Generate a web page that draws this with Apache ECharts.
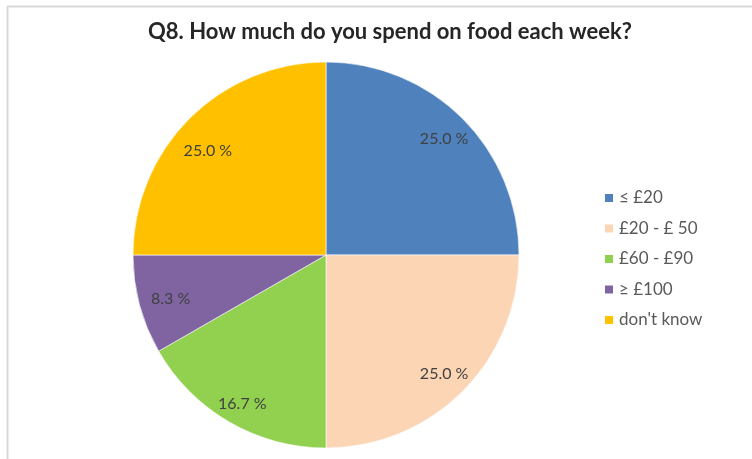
<!DOCTYPE html>
<html>
<head>
<meta charset="utf-8">
<script src="https://cdn.jsdelivr.net/npm/echarts@6/dist/echarts.min.js"></script>
<style>
  html, body { margin: 0; padding: 0; background: #ffffff; }
  #chart { width: 752px; height: 459px; }
</style>
</head>
<body>
<div id="chart"></div>
<script>
// Weekly food spend – share of respondents per band
const categories = ['≤ £20', '£20 - £ 50', '£60 - £90', '≥ £100', "don't know"];
const shares = [25.0, 25.0, 16.7, 8.3, 25.0];
const sliceColors = ['#4F81BD', '#FCD5B5', '#92D050', '#8064A2', '#FFC000'];
// small per-slice nudges for the percentage labels (best-fit placement)
const labelNudge = [[0, 2], [0, 1], [0, 4], [6, 1], [0, 14]];

const FONT = 'Lato, "Open Sans", sans-serif';
const center = [326, 255];
const R = 193;

const chart = echarts.init(document.getElementById('chart'), null, { renderer: 'canvas' });

chart.setOption({
  backgroundColor: '#ffffff',
  animation: false,
  title: {
    text: 'Q8. How much do you spend on food each week?',
    left: 385,
    textAlign: 'center',
    top: 16,
    textStyle: { fontFamily: FONT, fontSize: 22, fontWeight: 'bold', color: '#262626' }
  },
  legend: {
    orient: 'vertical',
    left: 598,
    top: 184.5,
    itemWidth: 10,
    itemHeight: 10,
    itemGap: 13.5,
    icon: 'rect',
    selectedMode: false,
    data: categories,
    textStyle: { fontFamily: FONT, fontSize: 17, color: '#595959' }
  },
  graphic: [
    { type: 'line', shape: { x1: 7, y1: 6.5, x2: 752, y2: 6.5 }, style: { stroke: '#d9d9d9', lineWidth: 2 }, silent: true },
    { type: 'line', shape: { x1: 7.5, y1: 6, x2: 7.5, y2: 459 }, style: { stroke: '#d9d9d9', lineWidth: 2 }, silent: true }
  ],
  series: [
    {
      // the coloured slices
      type: 'pie',
      center: center,
      radius: R,
      startAngle: 90,
      clockwise: true,
      silent: true,
      label: { show: false },
      labelLine: { show: false },
      itemStyle: { borderColor: '#ffffff', borderWidth: 0.6 },
      data: categories.map((name, i) => ({
        name: name,
        value: shares[i],
        itemStyle: { color: sliceColors[i] }
      }))
    },
    {
      // transparent ring carrying the percentage labels near the rim
      type: 'pie',
      center: center,
      radius: [R * 0.72, R * 0.98],
      startAngle: 90,
      clockwise: true,
      silent: true,
      itemStyle: { color: 'rgba(0,0,0,0)' },
      label: {
        show: true,
        position: 'inside',
        fontFamily: FONT,
        fontSize: 16,
        color: '#404040',
        formatter: p => p.value.toFixed(1) + ' %'
      },
      labelLine: { show: false },
      data: categories.map((name, i) => ({
        name: name,
        value: shares[i],
        label: { offset: labelNudge[i] }
      }))
    }
  ]
});
</script>
</body>
</html>
